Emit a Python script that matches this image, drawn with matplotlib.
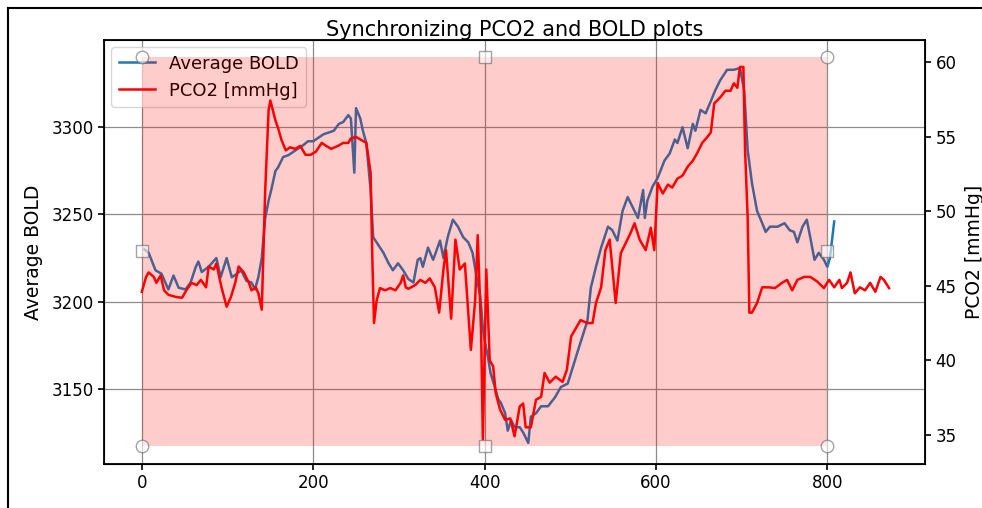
import numpy as np
import matplotlib.pyplot as plt
from matplotlib.patches import Rectangle
from matplotlib.lines import Line2D

# BOLD signal (left axis)
bold_t = [3, 8, 16, 23, 31, 37, 43, 51, 57, 63, 66, 70, 78, 87, 92, 99, 105, 111, 116, 122,
          128, 132, 136, 140, 144, 148, 151, 156, 159, 165, 171, 177, 183, 189, 194, 200, 206,
          212, 218, 224, 230, 235, 241, 244, 248, 250, 255, 258, 262, 267, 270, 274, 278, 282,
          288, 293, 299, 305, 311, 317, 322, 325, 328, 334, 340, 348, 352, 357, 363, 369, 375,
          381, 386, 390, 395, 398, 400, 404, 407, 412, 416, 419, 424, 427, 431, 435, 441, 445,
          451, 454, 460, 466, 474, 482, 489, 497, 509, 520, 524, 530, 536, 544, 549, 555, 561,
          567, 573, 579, 585, 587, 590, 596, 602, 610, 616, 622, 625, 631, 637, 643, 646, 652,
          658, 664, 669, 675, 683, 691, 698, 703, 707, 712, 718, 724, 728, 733, 742, 750, 756,
          761, 765, 771, 776, 780, 785, 790, 796, 800, 803, 808]
bold = [3230, 3228, 3218, 3216, 3207, 3215, 3208, 3207, 3211, 3220, 3223, 3217, 3220, 3225, 3214,
        3225, 3214, 3216, 3218, 3212, 3211, 3207, 3214, 3225, 3248, 3258, 3264, 3275, 3277, 3283,
        3284, 3286, 3288, 3290, 3292, 3292, 3294, 3296, 3297, 3298, 3302, 3303, 3307, 3305, 3274,
        3311, 3305, 3298, 3291, 3264, 3237, 3234, 3231, 3228, 3222, 3218, 3222, 3218, 3213, 3211,
        3224, 3225, 3220, 3231, 3224, 3235, 3225, 3237, 3247, 3243, 3237, 3234, 3228, 3216, 3203,
        3185, 3178, 3168, 3159, 3151, 3144, 3142, 3136, 3126, 3132, 3128, 3128, 3125, 3119, 3134,
        3136, 3140, 3140, 3145, 3151, 3153, 3172, 3189, 3208, 3220, 3231, 3243, 3241, 3235, 3252,
        3260, 3254, 3248, 3264, 3248, 3258, 3266, 3271, 3281, 3285, 3293, 3291, 3300, 3288, 3302,
        3298, 3310, 3308, 3315, 3321, 3327, 3333, 3333, 3334, 3321, 3287, 3268, 3252, 3245, 3240,
        3243, 3243, 3245, 3241, 3240, 3234, 3243, 3247, 3237, 3224, 3228, 3224, 3220, 3225, 3246]

# PCO2 trace (right axis)
pco2_t = [0, 5, 8, 14, 17, 22, 26, 31, 40, 47, 52, 58, 64, 69, 75, 78, 84, 87, 93, 99, 104, 109,
          113, 119, 125, 128, 133, 136, 140, 144, 148, 150, 156, 159, 163, 168, 173, 179, 185,
          191, 197, 203, 210, 215, 221, 229, 235, 241, 244, 250, 256, 262, 267, 269, 271, 274,
          278, 284, 290, 296, 302, 305, 308, 311, 319, 325, 331, 336, 342, 347, 352, 355, 361,
          366, 371, 377, 384, 389, 392, 396, 398, 402, 406, 410, 413, 418, 424, 430, 435, 441,
          445, 448, 454, 460, 466, 470, 476, 483, 491, 496, 501, 512, 520, 526, 530, 536, 541,
          546, 549, 553, 559, 565, 570, 575, 581, 588, 594, 598, 602, 608, 614, 619, 625, 631,
          637, 643, 648, 654, 660, 664, 668, 675, 681, 687, 691, 695, 698, 702, 704, 707, 709,
          712, 718, 724, 732, 739, 747, 753, 759, 765, 773, 780, 788, 796, 802, 808, 814, 817,
          823, 827, 832, 838, 844, 850, 856, 862, 866, 872]
pco2 = [44.6, 45.6, 45.9, 45.6, 45.2, 45.7, 44.7, 44.4, 44.25, 44.2, 44.7, 45.2, 45.05, 45.4,
        44.9, 46.3, 46.1, 46.5, 44.9, 43.6, 44.25, 45.2, 46.3, 45.9, 45.2, 44.7, 44.9, 44.5,
        43.4, 51.4, 56.8, 57.45, 56.1, 55.6, 54.8, 54.1, 54.3, 54.2, 54.4, 53.8, 53.8, 54.0,
        54.6, 54.4, 54.2, 54.4, 54.6, 54.6, 54.9, 55.0, 54.8, 54.6, 52.6, 46.9, 42.5, 44.0,
        44.85, 44.7, 44.85, 44.7, 45.2, 45.7, 44.9, 44.8, 45.05, 45.4, 45.2, 45.5, 44.9, 43.2,
        46.1, 47.4, 42.8, 48.1, 46.1, 46.5, 40.7, 44.0, 48.4, 41.8, 34.7, 46.1, 40.0, 39.6,
        37.8, 36.7, 36.0, 36.1, 34.9, 36.9, 37.1, 35.5, 35.5, 37.35, 37.55, 39.15, 38.5, 38.9,
        38.55, 39.35, 41.6, 42.7, 42.5, 42.5, 43.85, 44.9, 47.4, 48.1, 46.3, 43.85, 47.2, 47.9,
        48.5, 49.2, 48.1, 47.4, 48.9, 47.4, 51.9, 51.2, 51.8, 51.6, 52.2, 52.4, 53.0, 53.4,
        53.9, 54.6, 55.0, 55.3, 57.25, 57.65, 58.1, 58.1, 58.6, 58.3, 59.7, 59.7, 54.1, 49.6,
        43.2, 43.2, 43.85, 44.9, 44.9, 44.85, 45.2, 45.4, 44.7, 45.4, 45.6, 45.6, 45.3, 44.85,
        45.4, 44.9, 45.4, 44.85, 45.2, 45.9, 44.5, 44.9, 44.7, 45.2, 44.6, 45.6, 45.4, 44.85]

# selection rectangle (in PCO2 axis units)
sel_x = (0, 800)
sel_y = (34.26, 60.4)

fig = plt.figure(figsize=(9.82, 5.08), dpi=100)
ax1 = fig.add_axes([0.106, 0.087, 0.836, 0.834])
ax2 = ax1.twinx()

l1, = ax1.plot(bold_t, bold, color='tab:blue', lw=1.8, label='Average BOLD')
l2, = ax2.plot(pco2_t, pco2, color='red', lw=1.8, label='PCO2 [mmHg]')

ax1.set_xlim(-44, 914)
ax1.set_ylim(3107, 3350)
ax2.set_ylim(33.05, 61.5)
ax1.set_xticks([0, 200, 400, 600, 800])
ax1.set_yticks([3150, 3200, 3250, 3300])
ax2.set_yticks([35, 40, 45, 50, 55, 60])
ax1.tick_params(labelsize=12, width=1.2, length=4)
ax2.tick_params(labelsize=12, width=1.2, length=4)
for sp in ax1.spines.values():
    sp.set_linewidth(1.3)
ax1.grid(True, color='0.55', lw=0.9)

ax1.set_title('Synchronizing PCO2 and BOLD plots', fontsize=15, pad=3)
ax1.set_ylabel('Average BOLD', fontsize=13.5, labelpad=6)
ax2.set_ylabel('PCO2 [mmHg]', fontsize=13.5, labelpad=6)
ax1.legend(handles=[l1, l2], loc='upper left', fontsize=13, handlelength=2.0,
           borderaxespad=0.4)

# the selector box with its handles
ax2.add_patch(Rectangle((sel_x[0], sel_y[0]), sel_x[1] - sel_x[0], sel_y[1] - sel_y[0],
                        facecolor='red', alpha=0.2, edgecolor='none', zorder=3))
xm = (sel_x[0] + sel_x[1]) / 2
ym = (sel_y[0] + sel_y[1]) / 2
ax2.plot([sel_x[0], sel_x[1], sel_x[0], sel_x[1]], [sel_y[0], sel_y[0], sel_y[1], sel_y[1]],
         'o', ms=9, mfc='white', mec='0.4', alpha=0.6, zorder=4, clip_on=False)
ax2.plot([xm, xm, sel_x[0], sel_x[1]], [sel_y[0], sel_y[1], ym, ym],
         's', ms=9, mfc='white', mec='0.4', alpha=0.6, zorder=4, clip_on=False)

# screenshot frame
fig.add_artist(Line2D([0.008, 0.008], [0, 0.984], color='black', lw=1.5))
fig.add_artist(Line2D([0.008, 1], [0.984, 0.984], color='black', lw=1.5))

fig.savefig('out.png', dpi=100)
